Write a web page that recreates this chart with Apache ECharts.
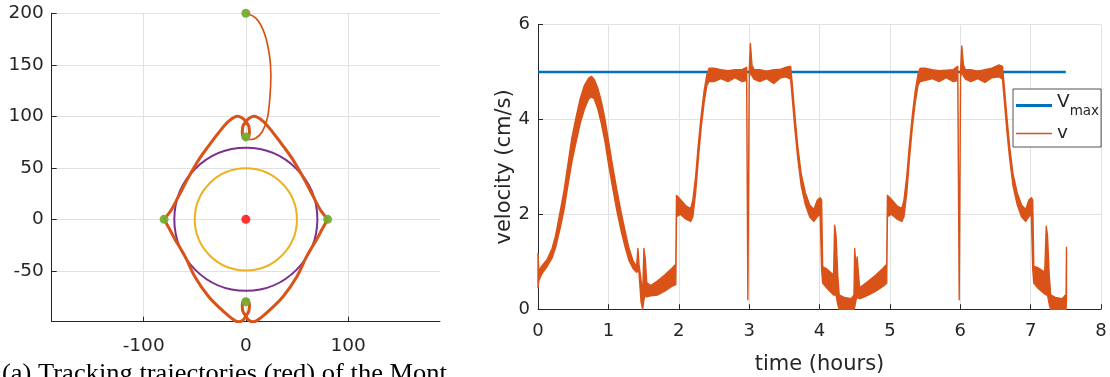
<!DOCTYPE html>
<html>
<head>
<meta charset="utf-8">
<script src="https://cdn.jsdelivr.net/npm/echarts@6/dist/echarts.min.js"></script>
<style>
  html, body { margin: 0; padding: 0; background: #ffffff; }
  #chart { width: 1110px; height: 377px; }
</style>
</head>
<body>
<div id="chart"></div>
<script>
// ---------- Left panel: planar trajectory ----------
const startPoint = [[0, 200]];
const waypoints = [[0, 80], [80, 0], [0, -80], [-80, 0]];
const centerPoint = [[0, 0]];
const circleRadii = [70, 50];

// first approach from the start point down to the upper waypoint
const approachPath = [
  [0, 200], [10, 195], [18, 181], [23, 160], [24.5, 140], [23.5, 118],
  [21, 98], [16, 85], [10, 79], [5, 77.5], [1, 78]
];
// repeated tour, upper half: left waypoint -> loop at top -> right waypoint
const upperArc = [
  [-80, 0], [-73, 9], [-66, 22], [-56, 41], [-46, 58], [-37, 70.5], [-27, 83.5],
  [-17, 95], [-8, 100], [-4, 98.5], [0, 95], [3, 90], [3.5, 84], [2, 79], [0, 78],
  [-2, 79], [-3.5, 84], [-3, 90], [0, 95], [4, 98.5], [8, 100], [17, 95],
  [27, 83.5], [37, 70.5], [46, 58], [56, 41], [66, 22], [73, 9], [80, 0]
];
// repeated tour, lower half: right waypoint -> loop at bottom -> left waypoint
const lowerArc = [
  [80, 0], [75, -9], [69, -20], [59.5, -36], [50, -55.5], [36.5, -75], [23.5, -88],
  [14, -96], [7, -99.5], [3, -98], [0, -94], [-3, -89], [-3.5, -83], [-2, -78.5],
  [0, -77.5], [2, -78.5], [3.5, -83], [3, -89], [0, -94], [-3, -98], [-7, -99.5],
  [-14, -96], [-23.5, -88], [-36.5, -75], [-50, -55.5], [-59.5, -36], [-69, -20],
  [-75, -9], [-80, 0]
];
const trajXTicks = [-100, 0, 100];
const trajYTicks = [-50, 0, 50, 100, 150, 200];

// ---------- Right panel: speed over time (lower / upper edge of the oscillation band) ----------
const vTime = [
  0.000, 0.012, 0.040, 0.080, 0.130, 0.200, 0.250, 0.320, 0.370, 0.430, 0.480, 0.540,
  0.600, 0.660, 0.720, 0.760, 0.800, 0.850, 0.900, 0.950, 1.000, 1.060, 1.120, 1.180,
  1.240, 1.290, 1.350, 1.400, 1.420, 1.435, 1.465, 1.487, 1.505, 1.525, 1.545, 1.600,
  1.700, 1.800, 1.900, 1.958, 1.968, 2.020, 2.100, 2.170, 2.200, 2.240, 2.280, 2.320,
  2.360, 2.400, 2.430, 2.500, 2.600, 2.700, 2.800, 2.900, 2.965, 2.982, 3.002, 3.018,
  3.040, 3.070, 3.150, 3.250, 3.350, 3.450, 3.520, 3.590, 3.610, 3.650, 3.690, 3.740,
  3.800, 3.860, 3.920, 3.970, 4.010, 4.030, 4.045, 4.100, 4.200, 4.215, 4.235, 4.260,
  4.280, 4.350, 4.450, 4.490, 4.500, 4.520, 4.535, 4.570, 4.700, 4.800, 4.900, 4.955,
  4.965, 5.020, 5.100, 5.170, 5.200, 5.240, 5.280, 5.320, 5.360, 5.400, 5.430, 5.500,
  5.600, 5.700, 5.800, 5.900, 5.965, 5.985, 6.005, 6.022, 6.045, 6.075, 6.150, 6.250,
  6.350, 6.450, 6.550, 6.600, 6.620, 6.660, 6.700, 6.750, 6.810, 6.870, 6.930, 6.975,
  7.010, 7.030, 7.045, 7.100, 7.200, 7.222, 7.240, 7.265, 7.285, 7.350, 7.450, 7.495,
  7.503, 7.510
];
const vLow = [
  0.45, 0.60, 0.70, 0.80, 0.90, 1.08, 1.30, 1.74, 2.10, 2.65, 3.10, 3.52,
  3.92, 4.22, 4.43, 4.48, 4.43, 4.22, 3.92, 3.55, 3.08, 2.57, 2.08, 1.66,
  1.30, 1.04, 0.86, 0.78, 0.80, 0.78, 0.15, 0.00, 0.20, 0.30, 0.26, 0.28,
  0.30, 0.38, 0.48, 0.52, 1.95, 2.00, 1.90, 1.85, 1.95, 2.45, 3.20, 3.85,
  4.35, 4.72, 4.80, 4.80, 4.86, 4.80, 4.88, 4.80, 4.82, 0.20, 4.90, 5.00,
  4.92, 4.85, 4.80, 4.86, 4.76, 4.88, 4.90, 4.85, 4.50, 3.80, 3.20, 2.60,
  2.20, 1.95, 1.85, 1.95, 2.00, 0.85, 0.55, 0.45, 0.30, 0.30, 0.30, 0.10,
  0.00, 0.00, 0.00, 0.00, 0.05, 0.20, 0.25, 0.22, 0.30, 0.38, 0.48, 0.55,
  1.95, 2.00, 1.90, 1.85, 1.95, 2.45, 3.20, 3.85, 4.35, 4.72, 4.80, 4.82,
  4.86, 4.80, 4.88, 4.80, 4.82, 0.20, 4.90, 5.00, 4.92, 4.85, 4.80, 4.86,
  4.78, 4.88, 4.90, 4.85, 4.50, 3.80, 3.20, 2.60, 2.20, 1.95, 1.85, 1.95,
  2.00, 0.85, 0.55, 0.45, 0.32, 0.30, 0.30, 0.10, 0.00, 0.00, 0.00, 0.00,
  0.00, 0.20
];
const vHigh = [
  1.18, 0.80, 0.88, 0.96, 1.05, 1.28, 1.55, 2.10, 2.50, 3.10, 3.60, 4.04,
  4.44, 4.72, 4.87, 4.91, 4.84, 4.66, 4.38, 4.02, 3.57, 3.02, 2.52, 2.05,
  1.63, 1.30, 1.02, 0.90, 1.28, 0.95, 0.60, 0.30, 1.28, 1.05, 0.56, 0.50,
  0.60, 0.72, 0.86, 0.95, 2.40, 2.32, 2.18, 2.12, 2.30, 2.80, 3.50, 4.10,
  4.60, 4.95, 5.08, 5.08, 5.05, 5.03, 5.05, 5.05, 5.10, 0.24, 5.05, 5.60,
  5.15, 5.05, 5.05, 5.02, 5.05, 5.06, 5.10, 5.12, 4.80, 4.10, 3.45, 2.85,
  2.45, 2.20, 2.10, 2.30, 2.35, 2.30, 0.90, 0.85, 0.72, 1.77, 1.55, 0.70,
  0.30, 0.25, 0.22, 0.30, 1.28, 0.85, 1.10, 0.45, 0.60, 0.72, 0.86, 0.95,
  2.40, 2.32, 2.18, 2.12, 2.30, 2.80, 3.50, 4.10, 4.60, 4.95, 5.08, 5.08,
  5.05, 5.03, 5.04, 5.05, 5.12, 0.24, 5.05, 5.55, 5.15, 5.05, 5.05, 5.02,
  5.05, 5.08, 5.15, 5.12, 4.80, 4.10, 3.45, 2.85, 2.45, 2.20, 2.10, 2.30,
  2.35, 2.30, 0.90, 0.88, 0.78, 1.75, 1.55, 0.70, 0.30, 0.25, 0.22, 0.30,
  0.25, 1.30
];
const vmaxTime = [0, 7.5];
const vmaxValue = [5, 5];

// ---------- styling ----------
const INK = '#262626';
const GRIDLINE = '#e1e1e1';
const SANS = 'DejaVu Sans';
const ORANGE = '#D95319';

const chart = echarts.init(document.getElementById('chart'), null, { renderer: 'canvas' });

const tickLabel = { color: INK, fontFamily: SANS, fontSize: 18.5 };

chart.setOption({
  animation: false,
  backgroundColor: '#ffffff',
  grid: [
    { left: 51.7, top: 13.3, width: 388.3, height: 308.4, outerBoundsMode: 'none' },
    { left: 538, top: 24.6, width: 563, height: 284.6, outerBoundsMode: 'none' }
  ],
  xAxis: [
    {
      gridIndex: 0, type: 'value', min: -190, max: 190,
      axisLine: { show: true, onZero: false, lineStyle: { color: INK, width: 1 } },
      axisTick: { show: true, inside: true, length: 5, lineStyle: { color: INK }, customValues: trajXTicks },
      axisLabel: Object.assign({ margin: 15, customValues: trajXTicks }, tickLabel),
      splitLine: { show: true, lineStyle: { color: GRIDLINE, width: 1 } }
    },
    {
      gridIndex: 1, type: 'value', min: 0, max: 8, interval: 1,
      name: 'time (hours)', nameLocation: 'middle', nameGap: 45, nameMoveOverlap: false,
      nameTextStyle: { color: INK, fontFamily: SANS, fontSize: 21 },
      axisLine: { show: true, onZero: false, lineStyle: { color: INK, width: 1 } },
      axisTick: { show: true, inside: true, length: 5, lineStyle: { color: INK } },
      axisLabel: Object.assign({ margin: 13 }, tickLabel, { fontSize: 18 }),
      splitLine: { show: true, lineStyle: { color: GRIDLINE, width: 1 } }
    }
  ],
  yAxis: [
    {
      gridIndex: 0, type: 'value', min: -99.4, max: 200,
      axisLine: { show: true, onZero: false, lineStyle: { color: INK, width: 1 } },
      axisTick: { show: true, inside: true, length: 5, lineStyle: { color: INK }, customValues: trajYTicks },
      axisLabel: Object.assign({ margin: 8, customValues: trajYTicks }, tickLabel),
      splitLine: { show: true, lineStyle: { color: GRIDLINE, width: 1 } }
    },
    {
      gridIndex: 1, type: 'value', min: 0, max: 6, interval: 2,
      name: 'velocity (cm/s)', nameLocation: 'middle', nameGap: 23, nameMoveOverlap: false,
      nameTextStyle: { color: INK, fontFamily: SANS, fontSize: 21 },
      axisLine: { show: true, onZero: false, lineStyle: { color: INK, width: 1 } },
      axisTick: { show: true, inside: true, length: 5, lineStyle: { color: INK } },
      axisLabel: Object.assign({ margin: 8 }, tickLabel, { fontSize: 18 }),
      splitLine: { show: true, lineStyle: { color: GRIDLINE, width: 1 } }
    }
  ],
  legend: {
    orient: 'vertical',
    left: 1013, top: 89,
    padding: [4, 2, 4, 3],
    itemGap: 6,
    itemWidth: 36, itemHeight: 14,
    backgroundColor: '#ffffff',
    borderColor: INK, borderWidth: 0.8, borderRadius: 0,
    selectedMode: false,
    data: [
      { name: 'Vmax', icon: 'path://M0 0H36V3H0Z' },
      { name: 'v', icon: 'path://M0 0H36V1.4H0Z' }
    ],
    formatter: function (name) {
      return name === 'Vmax' ? '{b|V}{s|max}' : '{b|v}';
    },
    textStyle: {
      color: INK, fontFamily: SANS, fontSize: 18,
      rich: {
        b: { fontSize: 18.5, fontFamily: SANS, color: INK, verticalAlign: 'top' },
        s: { fontSize: 13.5, fontFamily: SANS, color: INK, verticalAlign: 'top', padding: [11, 0, 0, 0] }
      }
    }
  },
  graphic: [
    {
      type: 'text', left: 2, top: 362, scaleX: 1.06, silent: true,
      style: {
        text: '(a) Tracking trajectories (red) of the Mont',
        fill: '#000000', font: '25px "Liberation Serif"'
      }
    }
  ],
  series: [
    // reference circles around the centre
    {
      type: 'custom', xAxisIndex: 0, yAxisIndex: 0, silent: true,
      data: circleRadii.map(function (r) { return [0, 0, r]; }),
      renderItem: function (params, api) {
        const c = api.coord([api.value(0), api.value(1)]);
        const r = api.size([api.value(2), 0])[0];
        const colors = ['#7E2F8E', '#EDB120'];
        return {
          type: 'circle',
          shape: { cx: c[0], cy: c[1], r: r },
          style: { fill: 'none', stroke: colors[params.dataIndex], lineWidth: 2 }
        };
      },
      z: 2
    },
    {
      type: 'line', xAxisIndex: 0, yAxisIndex: 0, data: approachPath,
      smooth: 0.35, showSymbol: false, symbol: 'none', silent: true,
      lineStyle: { color: ORANGE, width: 1.7 }, z: 3
    },
    {
      type: 'line', xAxisIndex: 0, yAxisIndex: 0, data: upperArc,
      smooth: 0.35, showSymbol: false, symbol: 'none', silent: true,
      lineStyle: { color: ORANGE, width: 3 }, z: 3
    },
    {
      type: 'line', xAxisIndex: 0, yAxisIndex: 0, data: lowerArc,
      smooth: 0.35, showSymbol: false, symbol: 'none', silent: true,
      lineStyle: { color: ORANGE, width: 3 }, z: 3
    },
    {
      type: 'scatter', xAxisIndex: 0, yAxisIndex: 0,
      data: startPoint.concat(waypoints), symbolSize: 9, silent: true,
      itemStyle: { color: '#77AC30', opacity: 0.95 }, z: 4
    },
    {
      type: 'scatter', xAxisIndex: 0, yAxisIndex: 0,
      data: centerPoint, symbolSize: 9, silent: true,
      itemStyle: { color: '#FF0000' }, z: 4
    },
    // speed limit
    {
      name: 'Vmax', type: 'line', xAxisIndex: 1, yAxisIndex: 1,
      data: vmaxTime.map(function (t, i) { return [t, vmaxValue[i]]; }),
      showSymbol: false, symbol: 'none', silent: true,
      itemStyle: { color: '#0072BD' },
      lineStyle: { color: '#0072BD', width: 2.6 }, z: 3
    },
    // measured speed, drawn as the band between its lower and upper edges
    {
      name: 'v', type: 'custom', xAxisIndex: 1, yAxisIndex: 1, silent: true,
      itemStyle: { color: ORANGE },
      data: vTime.map(function (t, i) { return [t, vLow[i], vHigh[i]]; }),
      encode: { x: 0, y: [1, 2] },
      renderItem: function (params, api) {
        if (params.dataIndex !== 0) return null;
        const pts = [];
        for (let i = 0; i < vTime.length; i++) pts.push(api.coord([vTime[i], vHigh[i]]));
        for (let i = vTime.length - 1; i >= 0; i--) pts.push(api.coord([vTime[i], vLow[i]]));
        return {
          type: 'polygon',
          shape: { points: pts },
          style: { fill: ORANGE, stroke: ORANGE, lineWidth: 1.4, lineJoin: 'round' }
        };
      },
      z: 4
    }
  ]
});
</script>
</body>
</html>
